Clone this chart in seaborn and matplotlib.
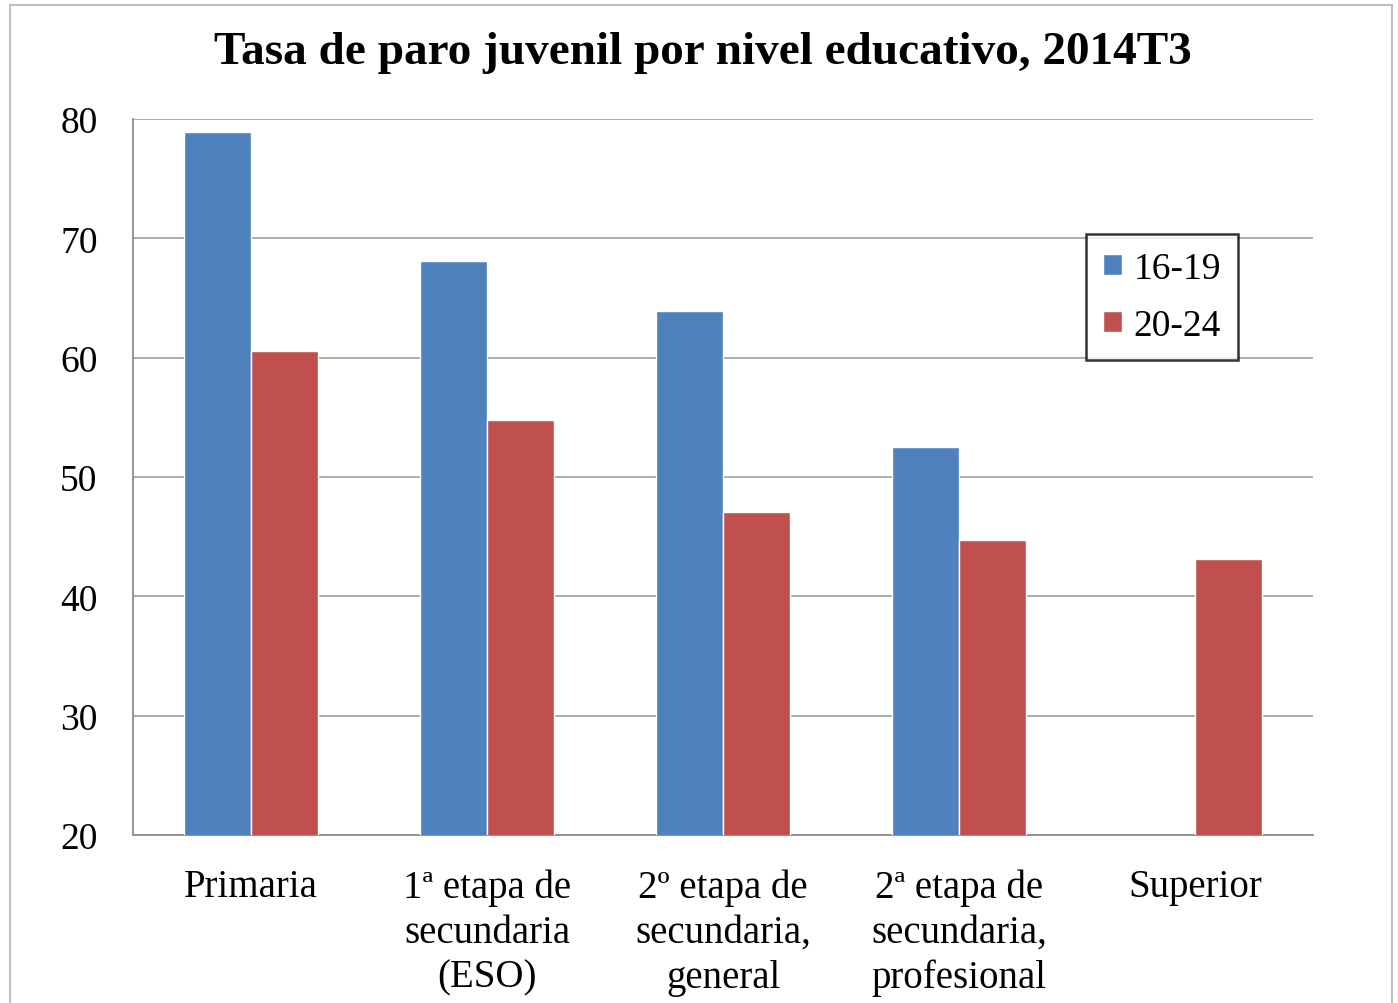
import numpy as np
import pandas as pd
import matplotlib
matplotlib.use("Agg")
import matplotlib.pyplot as plt
import seaborn as sns
from matplotlib.patches import Rectangle
from matplotlib.ticker import FixedLocator

# Data
niveles = [
    "Primaria",
    "1ª etapa de\nsecundaria\n(ESO)",
    "2º etapa de\nsecundaria,\ngeneral",
    "2ª etapa de\nsecundaria,\nprofesional",
    "Superior",
]
grupos = ["16-19", "20-24"]
tasa_16_19 = [78.9, 68.1, 63.9, 52.5, np.nan]
tasa_20_24 = [60.6, 54.8, 47.1, 44.7, 43.1]
colores = ["#4F81BD", "#C0504D"]

df = pd.DataFrame({
    "nivel": niveles * 2,
    "grupo": [grupos[0]] * len(niveles) + [grupos[1]] * len(niveles),
    "tasa": tasa_16_19 + tasa_20_24,
}).dropna()

sns.set_style("white")
plt.rcParams["font.family"] = ["Liberation Serif", "DejaVu Serif"]
plt.rcParams["text.color"] = "black"
plt.rcParams["xtick.labelcolor"] = "black"
plt.rcParams["ytick.labelcolor"] = "black"

fig = plt.figure(figsize=(13.98, 10.04), dpi=100)
ax = fig.add_axes([133 / 1398, 1 - 836 / 1004, 1180 / 1398, 716 / 1004])

sns.barplot(data=df, x="nivel", y="tasa", hue="grupo", order=niveles,
            hue_order=grupos, palette=colores, width=0.57, saturation=1,
            ax=ax, zorder=3)

ax.set_ylim(20, 80)
ax.set_xlim(-0.5, len(niveles) - 0.5)
ax.set_yticks(range(20, 81, 10))
ax.yaxis.grid(True, color="#a6a6a6", linewidth=1.3, zorder=0)
ax.set_axisbelow(True)
ax.set_xlabel("")
ax.set_ylabel("")

for side in ["top", "right"]:
    ax.spines[side].set_visible(False)
for side in ["left", "bottom"]:
    ax.spines[side].set_color("#8c8c8c")
    ax.spines[side].set_linewidth(1.3)

ax.tick_params(axis="y", which="major", direction="out", length=7.5,
               width=1.3, color="#8c8c8c", pad=18, labelsize=27,
               labelcolor="black")
ax.tick_params(axis="x", which="major", length=0, pad=24, labelsize=28,
               labelcolor="black")
ax.xaxis.set_minor_locator(FixedLocator(np.arange(-0.5, len(niveles), 1.0)))
ax.tick_params(axis="x", which="minor", direction="out", length=9,
               width=1.3, color="#8c8c8c")
for lbl in ax.get_xticklabels():
    lbl.set_linespacing(1.28)
    lbl.set_verticalalignment("top")

leg = ax.legend(loc="upper left", bbox_to_anchor=(0.808, 0.839),
                borderaxespad=0, fontsize=27, frameon=True, fancybox=False,
                handlelength=0.5, handleheight=0.5, handletextpad=0.3,
                labelspacing=0.6, borderpad=0.45, title=None)
leg.get_frame().set_edgecolor("black")
leg.get_frame().set_linewidth(1.8)
for t in leg.get_texts():
    t.set_color("black")

fig.text(703 / 1398, 1 - 53 / 1004,
         "Tasa de paro juvenil por nivel educativo, 2014T3",
         ha="center", va="center", fontsize=34, fontweight="bold",
         color="black")

fig.patches.append(Rectangle((10 / 1398, -0.01), 1382 / 1398, 1 - 6 / 1004 + 0.01,
                             transform=fig.transFigure, fill=False,
                             edgecolor="#bfbfbf", linewidth=1.5))

fig.savefig("out.png", dpi=100)
